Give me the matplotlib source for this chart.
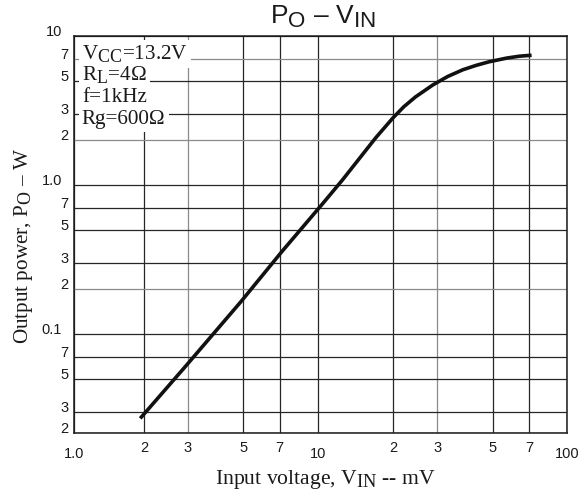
import matplotlib
matplotlib.use("Agg")
import matplotlib.pyplot as plt
import numpy as np

try:
    import matplotlib._mathtext as _mt
    _mt.SHRINK_FACTOR = 0.85
except Exception:
    pass

plt.rcParams['mathtext.fontset'] = 'custom'
plt.rcParams['mathtext.rm'] = 'Liberation Serif'
plt.rcParams['mathtext.sf'] = 'Liberation Sans'
plt.rcParams['font.family'] = ['Liberation Sans', 'DejaVu Sans']

# ---- data ----
vin_mv = [1.93, 2.92, 4.89, 7.13, 10.4, 12.5, 15.0, 17.0, 19.9, 22.0, 24.5, 28.8,
          33.0, 38.0, 43.0, 48.3, 56.9, 64.0, 71.6]
po_w = [0.0272, 0.0603, 0.165, 0.357, 0.75, 1.084, 1.596, 2.08, 2.82, 3.35, 3.90, 4.70,
        5.35, 5.94, 6.36, 6.71, 7.11, 7.32, 7.43]

x_limits = [1.047, 99.3]
y_limits = [0.0217, 10.0]

x_major_ticks = [1.047, 10, 99.3]
x_major_labels = ["1.0", "10", "100"]
x_minor_ticks = [2, 3, 5, 7, 20, 30, 50, 70]
x_minor_labels = ["2", "3", "5", "7", "2", "3", "5", "7"]

y_major_ticks = [0.1, 1.0, 10.0]
y_major_labels = ["0.1", "1.0", "10"]
y_minor_ticks = [0.0217, 0.03, 0.05, 0.07, 0.2, 0.3, 0.5, 0.7, 2, 3, 5, 7]
y_minor_labels = ["2", "3", "5", "7", "2", "3", "5", "7", "2", "3", "5", "7"]

grey_x = [3, 30]
grey_y = [0.2, 2, 7]

conditions = [r"V$_\mathrm{CC}$=13.2V", r"R$_\mathrm{L}$=4Ω", "f=1kHz", "Rg=600Ω"]

# ---- figure ----
fig = plt.figure(figsize=(5.82, 4.92), dpi=100)
ax = fig.add_axes([74/582, 59/492, 493/582, 397/492])
ax.set_xscale('log')
ax.set_yscale('log')
ax.set_xlim(*x_limits)
ax.set_ylim(*y_limits)

ax.set_xticks(x_major_ticks)
ax.set_xticklabels(x_major_labels)
ax.set_xticks(x_minor_ticks, minor=True)
ax.set_xticklabels(x_minor_labels, minor=True)
ax.set_yticks(y_major_ticks)
ax.set_yticklabels(y_major_labels)
ax.set_yticks(y_minor_ticks, minor=True)
ax.set_yticklabels(y_minor_labels, minor=True)

ax.tick_params(axis='both', which='both', length=0, labelsize=10.5, colors='#1a1a1a')
ax.tick_params(axis='x', which='major', pad=10.0)
ax.tick_params(axis='x', which='minor', pad=5.8)
ax.tick_params(axis='y', which='major', pad=8.8)
ax.tick_params(axis='y', which='minor', pad=3.8)
for lab in ax.get_yticklabels(which='both'):
    lab.set_va('baseline')

dark = '#262626'
grey = '#8a8a8a'
ax.grid(True, which='both', color=dark, lw=0.9)
for t in ax.xaxis.get_minor_ticks():
    if any(abs(t.get_loc() - g) < 1e-6 for g in grey_x):
        t.gridline.set_color(grey)
for t in ax.yaxis.get_minor_ticks():
    if any(abs(t.get_loc() - g) < 1e-6 for g in grey_y):
        t.gridline.set_color(grey)
ax.set_axisbelow(True)

for s in ax.spines.values():
    s.set_linewidth(1.1)
    s.set_color('#1a1a1a')

ax.plot(vin_mv, po_w, color='#111111', lw=2.6, solid_capstyle='butt',
        solid_joinstyle='round', zorder=5)

# conditions block
base_y = [0.942, 0.887, 0.835, 0.779]
for txt, yy in zip(conditions, base_y):
    ax.text(0.016, yy, txt, transform=ax.transAxes, ha='left', va='baseline',
            fontsize=15.2, family=['Liberation Serif', 'DejaVu Serif'], color='#1a1a1a',
            bbox=dict(boxstyle='square,pad=0.15', facecolor='white', edgecolor='none'),
            zorder=4)

# title
ax.text(0.505, 1.032, r"P$_\mathsf{O}$ – V$_\mathsf{IN}$", transform=ax.transAxes,
        ha='center', va='baseline', fontsize=19, family=['Liberation Sans', 'DejaVu Sans'],
        color='#1a1a1a')

# axis labels
ax.set_xlabel(r"Input voltage, V$_\mathrm{IN}$ -- mV", fontsize=15.6,
              family=['Liberation Serif', 'DejaVu Serif'], color='#1a1a1a')
ax.xaxis.label.set_va('baseline')
ax.xaxis.set_label_coords(0.509, -0.1285)
ax.set_ylabel(r"Output power, P$_\mathrm{O}$ – W", fontsize=15.2,
              family=['Liberation Serif', 'DejaVu Serif'], color='#1a1a1a')
ax.yaxis.label.set_va('baseline')
ax.yaxis.set_label_coords(-0.0933, 0.471)

fig.savefig('out.png', dpi=100)
